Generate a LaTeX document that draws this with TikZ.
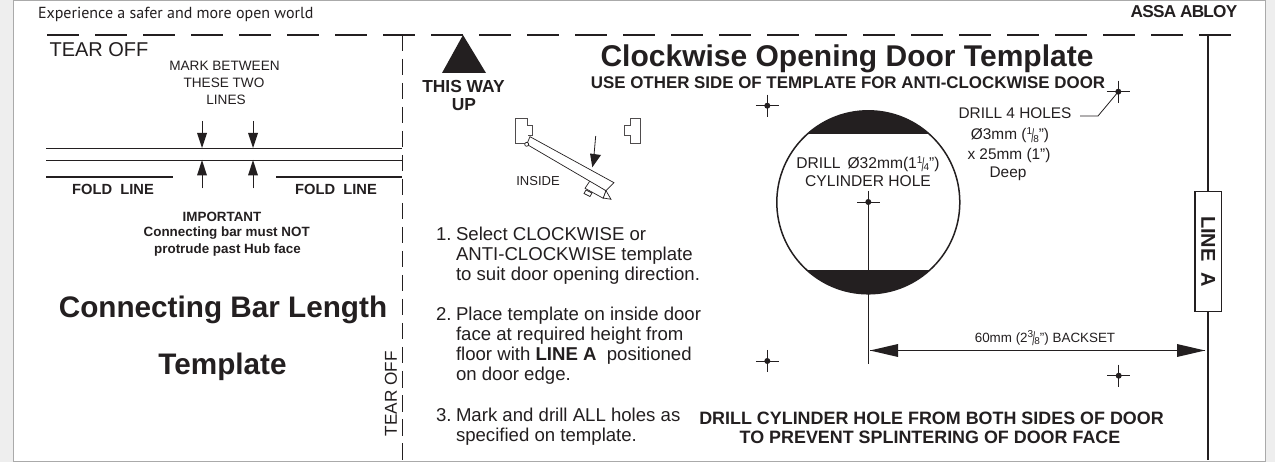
\documentclass[tikz,border=0pt]{standalone}
\usepackage{fontspec}
\setmainfont{Liberation Sans}
\newfontfamily\tagfont{PT Sans}
\newcommand{\fs}[1]{\fontsize{#1}{#1}\selectfont}
\newcommand{\vfrac}[3]{{\fontsize{#1}{#1}\selectfont\raisebox{.5em}{#2}\kern-.08em\raisebox{-.28em}{\scalebox{1}[1.9]{/}}\kern-.08em\raisebox{-.25em}{#3}}}
\definecolor{ink}{HTML}{231F20}
\definecolor{strip}{HTML}{EEEEEE}
\definecolor{rim}{HTML}{AAAAAA}
\tikzset{
 txt/.style={inner sep=0pt,outer sep=0pt,text=ink,align=center},
 ltxt/.style={inner sep=0pt,outer sep=0pt,text=ink,anchor=base west},
 rule/.style={draw=ink,line width=1pt},
 tearh/.style={draw=ink,line width=1.2pt,dash pattern=on 32pt off 16pt},
 tearv/.style={draw=ink,line width=1pt,dash pattern=on 16.5pt off 7.5pt},
 foldrule/.style={draw=ink,line width=2pt},
 head/.style={fill=ink,draw=none},
 sketch/.style={draw=ink,line width=.7pt,fill=white,line join=miter},
 crossarm/.style={draw=ink,line width=.9pt},
}
\begin{document}
\begin{tikzpicture}[x=1pt,y=-1pt]
\useasboundingbox (0,0) rectangle (1275,462);
\fill[white] (0,0) rectangle (1275,462);
\fill[strip] (0,0) rectangle (13,462);
\fill[strip] (1265,0) rectangle (1275,462);
\draw[rim,line width=1pt] (13,0.5) -- (1265,0.5);
\draw[rim,line width=1pt] (13,461.5) -- (1265,461.5);
\draw[rim,line width=.6pt] (13,0) -- (13,462);
\draw[rim,line width=.6pt] (1265,0) -- (1265,462);

% header
\node[ltxt,font=\tagfont\fs{16}] (tag) at (38,19) {Experience a safer and more open world};
\node[txt,font=\bfseries\fs{17.2}\addfontfeature{LetterSpace=-4.5}] (brand) at (1184,12) {ASSA ABLOY};

% tear lines
\coordinate (th0) at (47,35);
\coordinate (th1) at (1232,35);
\coordinate (tv0) at (402.5,35);
\coordinate (tv1) at (402.5,460);
\draw[tearh] (th0) -- (th1);
\draw[tearv] (tv0) -- (tv1);
\node[txt,font=\fs{20}] (tear1) at (99,50) {TEAR OFF};
\node[txt,font=\fs{17.2},rotate=90] (tear2) at (391,393.5) {TEAR OFF};

% left panel
\node[txt,font=\fs{13.6}] (m1) at (224.5,66) {MARK BETWEEN};
\node[txt,font=\fs{13.6}] (m2) at (224,83) {THESE TWO};
\node[txt,font=\fs{13.6}] (m3) at (226,100) {LINES};
\coordinate (a0) at (46,148.5); \coordinate (a1) at (402,148.5);
\coordinate (b0) at (46,160.5); \coordinate (b1) at (402,160.5);
\draw[rule] (a0) -- (a1);
\draw[rule] (b0) -- (b1);
\coordinate (f0) at (46,177); \coordinate (f1) at (173,177);
\coordinate (f2) at (276,177); \coordinate (f3) at (402,177);
\draw[foldrule] (f0) -- (f1);
\draw[foldrule] (f2) -- (f3);
\foreach \ax in {202,253}{
  \draw[rule] (\ax,121) -- (\ax,135);
  \fill[head] (\ax,148) -- (\ax-5,133) -- (\ax+5,133) -- cycle;
  \draw[rule] (\ax,188.5) -- (\ax,174);
  \fill[head] (\ax,160) -- (\ax-5,175.5) -- (\ax+5,175.5) -- cycle;
}
\node[txt,font=\bfseries\fs{14.7}] (fl1) at (113,189) {FOLD\ \ LINE};
\node[txt,font=\bfseries\fs{14.7}] (fl2) at (336,189) {FOLD\ \ LINE};
\node[txt,font=\bfseries\fs{13.4}] (i1) at (222,217) {IMPORTANT};
\node[txt,font=\bfseries\fs{13.4}] (i2) at (226.7,233.5) {Connecting bar must NOT};
\node[txt,font=\bfseries\fs{13.4}] (i3) at (227.5,250.5) {protrude past Hub face};
\node[txt,font=\bfseries\fs{29.7}] (t1) at (223,310) {Connecting Bar Length};
\node[txt,font=\bfseries\fs{29.7}] (t2) at (222.5,367) {Template};

% this way up
\fill[ink] (463,35) -- (442,73) -- (486,73) -- cycle;
\node[txt,font=\bfseries\fs{17.4}] (w1) at (463.5,87) {THIS WAY};
\node[txt,font=\bfseries\fs{17.4}] (w2) at (464,105) {UP};

% door sketch
\draw[sketch,draw=ink!80] (527,143) -- (515.7,143) -- (515.7,118) -- (527.3,118) -- (527.3,125) -- (532.3,125) -- (532.3,135) -- (528,135);
\draw[sketch,draw=ink!80] (640,118) -- (630,118) -- (630,125) -- (624.3,125) -- (624.3,135) -- (630,135) -- (630,143) -- (640,143) -- cycle;
\draw[sketch] (590.5,180) -- (585,188.3) -- (603.3,198.3) -- (606,190.7) -- cycle;
\draw[sketch] (586,190) -- (592,193) -- (590,196.5) -- (584,193.5) -- cycle;
\draw[sketch] (606,190.7) -- (611,199.3) -- (603.3,198) -- cycle;
\draw[sketch] (530,136.7) -- (614,182.7) -- (606,190.7) -- (526.7,144.3) -- cycle;
\draw[sketch] (526.7,144.3) circle (2);
\draw[rule,line width=.8pt] (595.7,136) -- (594,155);
\fill[head] (592.3,167.3) -- (590,153.5) -- (601,155) -- cycle;
\node[txt,font=\fs{13}] (inside) at (538,181.5) {INSIDE};

% instructions
\node[ltxt,font=\fs{18.6}] (s1) at (436,241) {1.};
\node[ltxt,font=\fs{18.6}] (s1a) at (456,241) {Select CLOCKWISE or};
\node[ltxt,font=\fs{18.6}] (s1b) at (456,261) {ANTI-CLOCKWISE template};
\node[ltxt,font=\fs{18.6}] (s1c) at (456,281) {to suit door opening direction.};
\node[ltxt,font=\fs{18.6}] (s2) at (436,321) {2.};
\node[ltxt,font=\fs{18.6}] (s2a) at (456,321) {Place template on inside door};
\node[ltxt,font=\fs{18.6}] (s2b) at (456,341) {face at required height from};
\node[ltxt,font=\fs{18.6}] (s2c) at (456,361) {floor with \textbf{LINE A}\ \ positioned};
\node[ltxt,font=\fs{18.6}] (s2d) at (456,381) {on door edge.};
\node[ltxt,font=\fs{18.6}] (s3) at (436,421) {3.};
\node[ltxt,font=\fs{18.6}] (s3a) at (456,421) {Mark and drill ALL holes as};
\node[ltxt,font=\fs{18.6}] (s3b) at (456,441) {specified on template.};

% title
\node[txt,font=\bfseries\fs{30}] (title) at (847,59) {Clockwise Opening Door Template};
\node[txt,font=\bfseries\fs{16.9}] (sub) at (848,83) {USE OTHER SIDE OF TEMPLATE FOR ANTI-CLOCKWISE DOOR};

% cylinder hole
\coordinate (cc) at (868.3,202.3);
\begin{scope}
  \clip (cc) circle (91.5);
  \fill[ink] (770,100) rectangle (970,134);
  \fill[ink] (770,270) rectangle (970,300);
\end{scope}
\draw[draw=ink,line width=1.5pt] (cc) circle (91.5);
\node[txt,font=\fs{15.6}] (d1) at (868,164) {DRILL \,Ø32mm(1\vfrac{10}{1}{4}")};
\node[txt,font=\fs{15.6}] (d2) at (868,181.5) {CYLINDER HOLE};
\coordinate (cross0) at (868.3,202);
\coordinate (cross0end) at (868.3,364);
\draw[crossarm] (857,202) -- (880,202);
\draw[crossarm] (868.3,191) -- (cross0end);
\fill[ink] (cross0) circle (3);

% drill holes
\foreach \cx/\cy in {767.3/105.7,1118.3/91.7,767.3/361,1118.7/375.7}{
  \draw[crossarm] (\cx-11.5,\cy) -- (\cx+11.5,\cy);
  \draw[crossarm] (\cx,\cy-11) -- (\cx,\cy+11);
  \fill[ink] (\cx,\cy) circle (3);
}
\draw[rule,line width=.8pt] (1118.3,91.7) -- (1098,116) -- (1080,116);
\node[txt,font=\fs{15.4}] (h1) at (1015,113.5) {DRILL 4 HOLES};
\node[txt,font=\fs{15.4}] (h2) at (1010,135.5) {Ø3mm (\vfrac{10}{1}{8}")};
\node[txt,font=\fs{15.4}] (h3) at (1009,155.5) {x 25mm (1")};
\node[txt,font=\fs{15.4}] (h4) at (1008,173.5) {Deep};

% line A
\coordinate (la0) at (1208,35);
\coordinate (la1) at (1208,460);
\draw[draw=ink,line width=1.8pt] (la0) -- (la1);
\node[draw=ink,line width=1.6pt,fill=white,minimum width=26.5pt,minimum height=120pt,inner sep=0pt] (labox) at (1208.3,251.7) {};
\node[txt,font=\bfseries\fs{20},rotate=-90] (la) at (labox.center) {LINE\ \ A};

% backset
\coordinate (bk0) at (870,350.5);
\coordinate (bk1) at (1205,350.5);
\draw[rule] (bk0) -- (bk1);
\fill[head] (bk0) -- (898,344) -- (898,357) -- cycle;
\fill[head] (bk1) -- (1177,344) -- (1177,357) -- cycle;
\node[txt,font=\fs{13.4}] (bs) at (1045,338) {60mm (2\vfrac{10}{3}{8}") BACKSET};

% bottom note
\node[txt,font=\bfseries\fs{17.9}] (n1) at (931.5,418) {DRILL CYLINDER HOLE FROM BOTH SIDES OF DOOR};
\node[txt,font=\bfseries\fs{17.9}] (n2) at (930,437) {TO PREVENT SPLINTERING OF DOOR FACE};
\end{tikzpicture}
\end{document}
